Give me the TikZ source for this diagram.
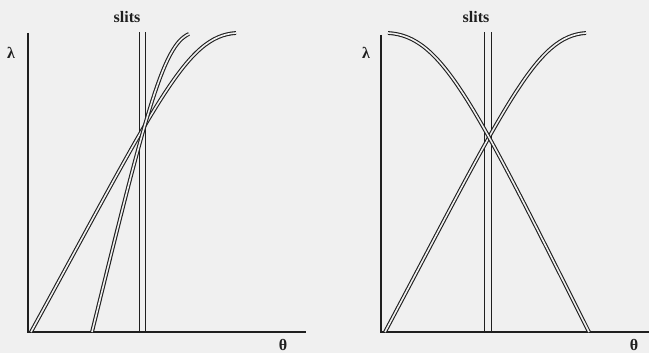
\documentclass[tikz,border=0pt]{standalone}
\usepackage{fontspec}
\setmainfont{Liberation Serif}
\begin{document}
\begin{tikzpicture}[x=1pt,y=-1pt,
  axis/.style={line width=1.2pt,draw=black!88},
  slit/.style={line width=0.95pt,draw=black!88},
  dbl/.style={line width=1.1pt,draw=black!88,double=white!94!black,double distance=1.6pt},
  lbl/.style={font=\bfseries\fontsize{16}{16}\selectfont,inner sep=0pt,text=black!88}]
\fill[white!94!black] (0,0) rectangle (649,353);
\useasboundingbox (0,0) rectangle (649,353);
% ---------- left panel ----------
\coordinate (L0) at (28,332);
\coordinate (Ltop) at (28,33);
\coordinate (Lend) at (306,332);
\draw[axis] (Ltop) -- (L0) -- (Lend);
\coordinate (s1b) at (139,332); \coordinate (s1t) at (139,32);
\coordinate (s2b) at (145,332); \coordinate (s2t) at (145,32);
\draw[slit] (s1b) -- (s1t);
\draw[slit] (s2b) -- (s2t);
\coordinate (a0) at (31,332); \coordinate (a1) at (236,33);
\coordinate (b0) at (92,332); \coordinate (b1) at (189,34);
\draw[dbl] (a0) .. controls (157,102) and (186,36) .. (a1);
\draw[dbl] (b0) .. controls (146,112) and (163,45) .. (b1);
\node[lbl] (sl1) at (127,17) {slits};
\node[lbl] (lam1) at (11,53) {λ};
\node[lbl] (th1) at (283,345) {θ};
% ---------- right panel ----------
\coordinate (R0) at (381,332);
\coordinate (Rtop) at (381,35);
\coordinate (Rend) at (649,332);
\draw[axis] (Rtop) -- (R0) -- (Rend);
\coordinate (s3b) at (484,332); \coordinate (s3t) at (484,32);
\coordinate (s4b) at (491,332); \coordinate (s4t) at (491,32);
\draw[slit] (s3b) -- (s3t);
\draw[slit] (s4b) -- (s4t);
\coordinate (c0) at (385,332); \coordinate (c1) at (586,33);
\coordinate (d0) at (589,332); \coordinate (d1) at (388,33);
\draw[dbl] (c0) .. controls (507,102) and (536,36) .. (c1);
\draw[dbl] (d0) .. controls (473,101) and (442,36) .. (d1);
\node[lbl] (sl2) at (476,17) {slits};
\node[lbl] (lam2) at (366,53) {λ};
\node[lbl] (th2) at (634,345) {θ};
\end{tikzpicture}
\end{document}
